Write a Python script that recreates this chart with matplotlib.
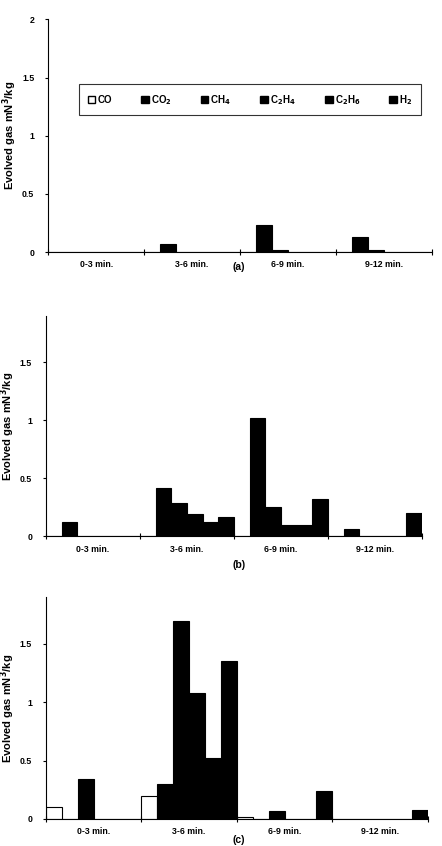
import numpy as np
import matplotlib
matplotlib.use("Agg")
import matplotlib.pyplot as plt
from matplotlib.patches import Patch

plt.rcParams['font.family'] = ['Liberation Sans', 'DejaVu Sans']
plt.rcParams['font.weight'] = 'bold'
plt.rcParams['axes.labelweight'] = 'bold'
plt.rcParams['mathtext.default'] = 'bf'

# categories and gases
periodos = ["0-3 min.", "3-6 min.", "6-9 min.", "9-12 min."]
gases = ["CO", "CO$_2$", "CH$_4$", "C$_2$H$_4$", "C$_2$H$_6$", "H$_2$"]
colores = ["white", "black", "black", "black", "black", "black"]

# values per gas, one list per period (mN3/kg)
datos_a = {
    "CO":   [0, 0, 0, 0],
    "CO2":  [0, 0.07, 0.23, 0.13],
    "CH4":  [0, 0, 0.02, 0.02],
    "C2H4": [0, 0, 0, 0],
    "C2H6": [0, 0, 0, 0],
    "H2":   [0, 0, 0, 0],
}
datos_b = {
    "CO":   [0, 0, 0, 0],
    "CO2":  [0.12, 0.42, 1.02, 0.065],
    "CH4":  [0, 0.29, 0.25, 0.005],
    "C2H4": [0, 0.19, 0.10, 0],
    "C2H6": [0, 0.12, 0.10, 0],
    "H2":   [0, 0.17, 0.32, 0.20],
}
datos_c = {
    "CO":   [0.10, 0.20, 0.02, 0],
    "CO2":  [0, 0.30, 0, 0],
    "CH4":  [0.34, 1.70, 0.07, 0],
    "C2H4": [0, 1.08, 0, 0],
    "C2H6": [0, 0.52, 0, 0],
    "H2":   [0, 1.35, 0.24, 0.08],
}

yticks_a = [0, 0.5, 1, 1.5, 2]
yticks_bc = [0, 0.5, 1, 1.5]

fig = plt.figure(figsize=(4.42, 8.46), dpi=100)

paneles = [
    (datos_a, [0.109, 0.702, 0.868, 0.275], 2.0, yticks_a, "(a)", 0.678),
    (datos_b, [0.104, 0.366, 0.851, 0.261], 1.9, yticks_bc, "(b)", 0.326),
    (datos_c, [0.104, 0.032, 0.864, 0.262], 1.9, yticks_bc, "(c)", 0.001),
]

ancho = 1 / 6
for datos, pos, ymax, yt, letra, ylet in paneles:
    ax = fig.add_axes(pos)
    x = np.arange(len(periodos))
    for k, (clave, col) in enumerate(zip(datos, colores)):
        ax.bar(x + k * ancho, datos[clave], width=ancho, align='edge',
               color=col, edgecolor='black', linewidth=0.8)
    ax.set_xlim(0, 4)
    ax.set_ylim(0, ymax)
    ax.spines['top'].set_visible(False)
    ax.spines['right'].set_visible(False)
    ax.set_xticks([0, 1, 2, 3, 4])
    ax.set_xticklabels([])
    ax.set_xticks(x + 0.5, minor=True)
    ax.set_xticklabels(periodos, minor=True, fontsize=6.3)
    ax.tick_params(axis='x', which='major', direction='inout', length=4)
    ax.tick_params(axis='x', which='minor', length=0, pad=6)
    ax.set_yticks(yt)
    ax.set_yticklabels([f"{v:g}" for v in yt], fontsize=6.3)
    ax.tick_params(axis='y', direction='out', length=2, pad=8)
    ax.set_ylabel("Evolved gas mN$^3$/kg", fontsize=8, labelpad=2)
    fig.text(0.54, ylet, letra, ha='center', va='bottom', fontsize=7.5)
    if letra == "(a)":
        manejadores = [Patch(facecolor=c, edgecolor='black', label=g)
                       for g, c in zip(gases, colores)]
        leg = ax.legend(handles=manejadores, ncol=6, loc='center',
                        bbox_to_anchor=(0.526, 0.655), fontsize=7,
                        frameon=True, fancybox=False, edgecolor='black',
                        handlelength=0.8, handleheight=0.8, handletextpad=0.2,
                        columnspacing=3.0, borderpad=0.9)
        leg.get_frame().set_linewidth(0.8)

plt.savefig("out.png", dpi=100)
